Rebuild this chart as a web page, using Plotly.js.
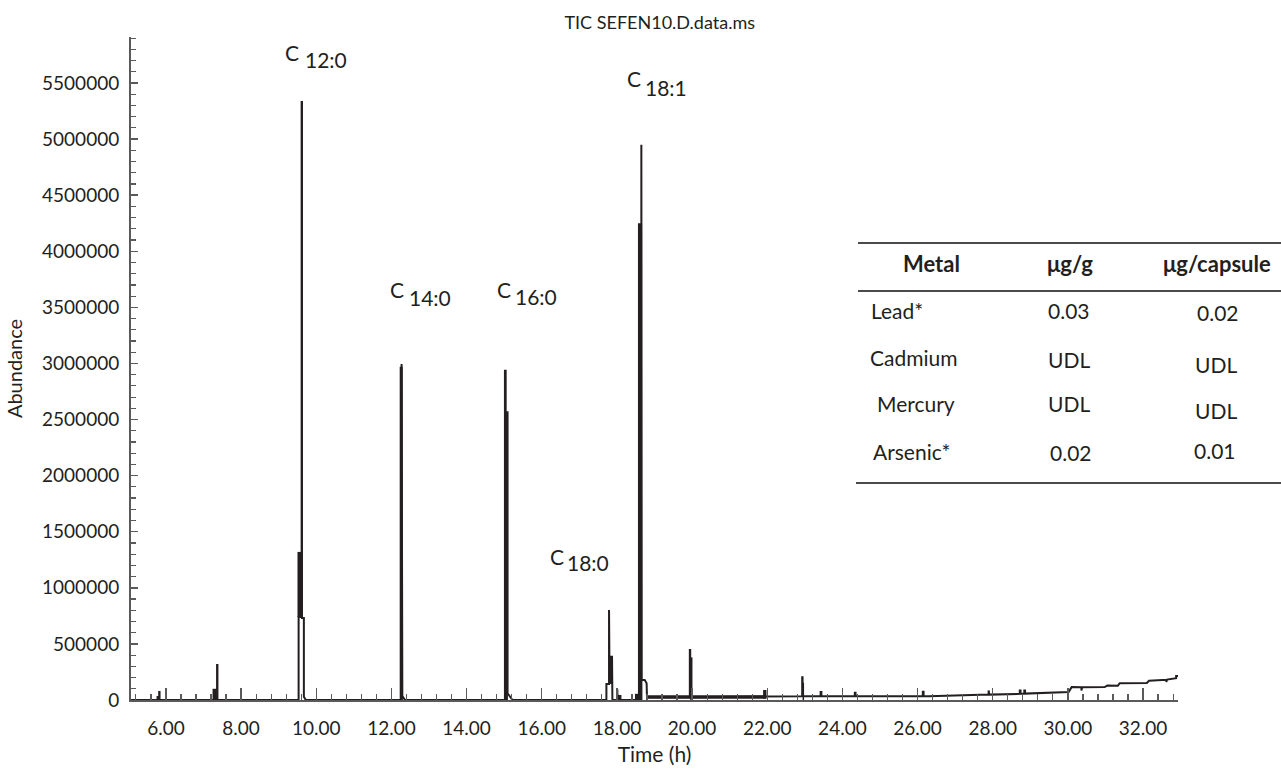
<!DOCTYPE html>
<html><head><meta charset="utf-8">
<script src="https://cdn.plot.ly/plotly-3.0.1.min.js"></script>
<style>html,body{margin:0;padding:0;background:#fff}#chart{width:1281px;height:773px}</style>
</head><body><div id="chart"></div>
<script>
// ---- Chromatogram outline: time (h) and abundance ----
const timeH = [
  5.07, 5.82, 5.82, 5.83, 5.83,
  7.36, 7.36, 7.37, 7.37,
  9.53, 9.53, 9.61, 9.61, 9.62, 9.62, 9.67, 9.67, 9.72,
  12.27, 12.27, 12.29, 12.29, 12.36,
  15.02, 15.02, 15.04, 15.04, 15.09, 15.09, 15.22,
  17.72, 17.72, 17.79, 17.79, 17.80, 17.80, 17.87, 17.87, 17.88,
  18.01, 18.01, 18.02, 18.02,
  18.65, 18.65, 18.66, 18.66, 18.74, 18.79, 18.80,
  19.94, 19.94, 19.95, 19.95, 21.97, 22.00,
  22.93, 22.93, 22.94, 22.94, 23.42, 23.42, 23.44, 23.44,
  24.33, 24.33, 24.35, 24.35, 26.14, 26.14, 26.16, 26.16, 26.30,
  27.89, 27.89, 27.91, 27.91, 28.72, 28.72, 28.74, 28.74, 28.84, 28.84, 28.86, 28.86,
  30.02, 30.10, 30.36, 30.36, 30.38, 30.38, 30.98, 31.05, 31.33, 31.38,
  32.10, 32.16, 32.62, 32.62, 32.64, 32.64, 32.88, 32.88, 32.93
];
const abundance = [
  0, 0, 71000, 71000, 0,
  0, 312000, 312000, 0,
  0, 740000, 740000, 5330000, 5330000, 730000, 730000, 30000, 0,
  0, 2995000, 2995000, 36000, 0,
  0, 2935000, 2935000, 2565000, 2565000, 60000, 0,
  0, 143000, 143000, 802000, 802000, 386000, 386000, 29000, 0,
  0, 95000, 95000, 0,
  0, 4950000, 4950000, 178000, 178000, 150000, 25000,
  25000, 446000, 446000, 25000, 27000, 33000,
  33000, 202000, 202000, 33000, 33000, 71000, 71000, 33000,
  33000, 65000, 65000, 33000, 33000, 74000, 74000, 33000, 33000,
  48000, 85000, 85000, 48000, 55000, 85000, 85000, 55000, 56000, 85000, 85000, 57000,
  72000, 115000, 113000, 85000, 85000, 113000, 115000, 130000, 128000, 150000,
  152000, 172000, 180000, 160000, 160000, 182000, 195000, 215000, 215000
];
// ---- Solid (densely filled) parts of the peaks ----
const blockStart = [5.75, 7.24, 9.50, 12.22, 15.02, 17.79, 18.01, 18.48, 18.56, 18.82, 19.95, 21.89, 22.94];
const blockEnd   = [5.81, 7.35, 9.63, 12.30, 15.10, 17.88, 18.12, 18.57, 18.67, 21.97, 20.01, 21.98, 22.98];
const blockBase  = [0, 0, 740000, 0, 0, 143000, 0, 0, 0, 12000, 0, 12000, 0];
const blockTop   = [36000, 100000, 1320000, 2970000, 2565000, 386000, 45000, 55000, 4250000, 42000, 380000, 89000, 154000];
// ---- Peak labels ----
const peakMain = ['C', 'C', 'C', 'C', 'C'];
const peakSub = ['12:0', '14:0', '16:0', '18:0', '18:1'];
// ---- Table ----
const tableHeader = ['Metal', 'μg/g', 'μg/capsule'];
const metals = ['Lead*', 'Cadmium', 'Mercury', 'Arsenic*'];
const perGram = ['0.03', 'UDL', 'UDL', '0.02'];
const perCapsule = ['0.02', 'UDL', 'UDL', '0.01'];

// ---- layout geometry (pixels) ----
const L = 131, R = 1178, T = 37, B = 700;
const px = x => (x - L) / (R - L);
const py = y => (B - y) / (B - T);
const FONT = 'Lato, "Open Sans", sans-serif';
const INK = '#231f20';
const AXC = '#5a5a5a';

const lineTrace = {
  type: 'scatter', mode: 'lines', x: timeH, y: abundance,
  line: {color: INK, width: 2}, hoverinfo: 'skip'
};
const blockTrace = {
  type: 'bar',
  x: blockStart.map((s, i) => (s + blockEnd[i]) / 2),
  width: blockStart.map((s, i) => blockEnd[i] - s),
  base: blockBase,
  y: blockTop.map((t, i) => t - blockBase[i]),
  marker: {color: INK, line: {width: 0}}, hoverinfo: 'skip'
};

const annotations = [];
// peak label positions: [C left, C centre y, sub left, sub centre y]
const labelPx = [[283, 52, 303, 59], [388, 289, 407, 297], [495, 289, 513, 296], [548, 556, 565, 562], [625, 78, 643, 88]];
peakMain.forEach((m, i) => {
  const p = labelPx[i];
  annotations.push({xref: 'paper', yref: 'paper', x: px(p[0]), y: py(p[1]), xanchor: 'left', yanchor: 'middle',
    text: m, showarrow: false, font: {family: FONT, size: 21, color: INK}});
  annotations.push({xref: 'paper', yref: 'paper', x: px(p[2]), y: py(p[3]), xanchor: 'left', yanchor: 'middle',
    text: peakSub[i], showarrow: false, font: {family: FONT, size: 21, color: INK}});
});
// table text
const headX = [931, 1070, 1217], headY = 263;
tableHeader.forEach((h, i) => annotations.push({xref: 'paper', yref: 'paper', x: px(headX[i]), y: py(headY),
  xanchor: 'center', yanchor: 'middle', text: '<b>' + h + '</b>', showarrow: false,
  font: {family: FONT, size: 22, color: INK}}));
const metalX = [869, 868, 875, 871], metalY = [310, 358, 403, 451];
const gramX = [1069, 1069, 1069, 1071], gramY = [310, 359, 403, 452];
const capX = [1218, 1216, 1216, 1215], capY = [312, 364, 410, 450];
metals.forEach((m, i) => {
  annotations.push({xref: 'paper', yref: 'paper', x: px(metalX[i]), y: py(metalY[i]), xanchor: 'left', yanchor: 'middle',
    text: m, showarrow: false, font: {family: FONT, size: 21, color: INK}});
  annotations.push({xref: 'paper', yref: 'paper', x: px(gramX[i]), y: py(gramY[i]), xanchor: 'center', yanchor: 'middle',
    text: perGram[i], showarrow: false, font: {family: FONT, size: 21, color: INK}});
  annotations.push({xref: 'paper', yref: 'paper', x: px(capX[i]), y: py(capY[i]), xanchor: 'center', yanchor: 'middle',
    text: perCapsule[i], showarrow: false, font: {family: FONT, size: 21, color: INK}});
});
const rule = (x0, x1, y) => ({type: 'line', xref: 'paper', yref: 'paper', x0: px(x0), x1: px(x1), y0: py(y), y1: py(y),
  line: {color: '#4a4a4a', width: 1.8}});
const shapes = [rule(858, 1281, 243), rule(858, 1281, 291), rule(856, 1281, 483)];

const layout = {
  width: 1281, height: 773,
  margin: {l: L, r: 1281 - R, t: T, b: 773 - B, pad: 0},
  paper_bgcolor: '#fff', plot_bgcolor: '#fff',
  showlegend: false, hovermode: false, barmode: 'overlay',
  font: {family: FONT, size: 19, color: INK},
  title: {text: 'TIC SEFEN10.D.data.ms', font: {family: FONT, size: 18, color: INK},
    xref: 'paper', x: 0.505, xanchor: 'center', yref: 'container', y: 1 - 23 / 773, yanchor: 'middle'},
  xaxis: {
    range: [5.07, 32.93], tickmode: 'linear', tick0: 0, dtick: 2, tickformat: '.2f',
    ticks: 'inside', ticklen: 12, tickwidth: 1.4, tickcolor: AXC,
    minor: {dtick: 0.4, tick0: 0, ticks: 'inside', ticklen: 6, tickwidth: 1.2, tickcolor: AXC},
    showline: true, linecolor: AXC, linewidth: 2, showgrid: false, zeroline: false,
    ticklabelstandoff: 10, tickfont: {family: FONT, size: 19, color: INK},
    title: {text: 'Time (h)', font: {family: FONT, size: 21, color: INK}, standoff: 10},
    automargin: false, fixedrange: true
  },
  yaxis: {
    range: [0, 5.91e6], tickmode: 'linear', tick0: 0, dtick: 500000, tickformat: 'd',
    ticks: 'inside', ticklen: 7, tickwidth: 1.4, tickcolor: AXC,
    minor: {dtick: 100000, ticks: 'inside', ticklen: 5, tickwidth: 1.2, tickcolor: AXC},
    showline: true, linecolor: AXC, linewidth: 2, showgrid: false, zeroline: false,
    ticklabelstandoff: 6, tickfont: {family: FONT, size: 19, color: INK},
    title: {text: 'Abundance', font: {family: FONT, size: 20, color: INK}, standoff: 14},
    automargin: false, fixedrange: true
  },
  annotations: annotations,
  shapes: shapes
};
Plotly.newPlot('chart', [blockTrace, lineTrace], layout, {displayModeBar: false, staticPlot: true});
</script>
</body></html>
